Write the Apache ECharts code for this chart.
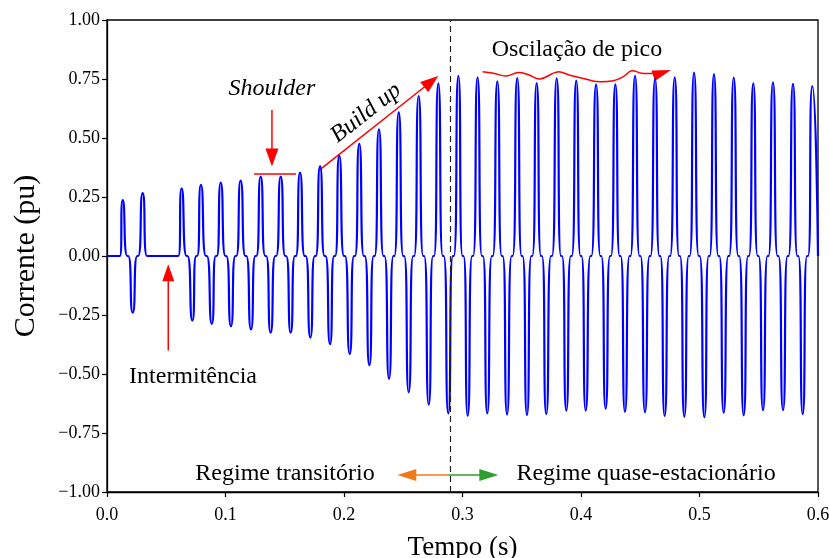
<!DOCTYPE html>
<html><head><meta charset="utf-8">
<script src="https://cdn.jsdelivr.net/npm/echarts@6/dist/echarts.min.js"></script>
<style>html,body{margin:0;padding:0;background:#fff}#c{width:829px;height:558px}</style>
</head><body><div id="c"></div>
<script>
// ---- data ----
const peakTimes = [0.0133,0.0301,0.0630,0.0793,0.0960,0.1128,0.1297,0.1466,0.1629,0.1798,0.1960,0.2129,0.2295,0.2462,0.2630,0.2796,0.2965,0.3127,0.3294,0.3462,0.3626,0.3795,0.3960,0.4127,0.4290,0.4456,0.4625,0.4791,0.4954,0.5122,0.5289,0.5454,0.5620,0.5789,0.5952];
const peakValues = [0.237,0.266,0.287,0.301,0.311,0.319,0.336,0.336,0.353,0.381,0.424,0.475,0.537,0.609,0.678,0.732,0.763,0.757,0.740,0.754,0.733,0.753,0.743,0.727,0.727,0.763,0.751,0.757,0.777,0.771,0.756,0.732,0.736,0.729,0.720];
const troughTimes = [0.0217,0.0720,0.0884,0.1046,0.1215,0.1381,0.1550,0.1716,0.1882,0.2048,0.2214,0.2380,0.2546,0.2715,0.2880,0.3044,0.3209,0.3376,0.3544,0.3707,0.3876,0.4040,0.4208,0.4371,0.4540,0.4706,0.4872,0.5041,0.5204,0.5373,0.5536,0.5705,0.5871];
const troughValues = [-0.240,-0.274,-0.288,-0.297,-0.311,-0.325,-0.325,-0.346,-0.374,-0.415,-0.463,-0.520,-0.578,-0.630,-0.667,-0.677,-0.667,-0.671,-0.674,-0.670,-0.655,-0.655,-0.647,-0.660,-0.662,-0.678,-0.681,-0.683,-0.664,-0.675,-0.653,-0.653,-0.670];
// intervals where the current rests at zero (start and intermittence gap)
const zeroRests = [[0, 0.0108], [0.0337, 0.0602]];
// observed short dwell at zero at each polarity change (s)
const zeroDwell = 0.0008;
const endTime = 0.6;
const xTickValues = [0, 0.1, 0.2, 0.3, 0.4, 0.5, 0.6];
const yTickValues = [-1, -0.75, -0.5, -0.25, 0, 0.25, 0.5, 0.75, 1];
const regimeBoundary = 0.288;

// ---- build waveform points ----
const pts = [];
peakTimes.forEach((t, i) => pts.push([t, peakValues[i]]));
troughTimes.forEach((t, i) => pts.push([t, troughValues[i]]));
zeroRests.forEach(r => { pts.push([r[0], 0]); pts.push([r[0] + 0.001, 0]); pts.push([r[1] - 0.001, 0]); pts.push([r[1], 0]); });
pts.push([endTime, 0]);
pts.sort((a, b) => a[0] - b[0]);
const wave = [];
for (let i = 0; i < pts.length; i++) {
  wave.push(pts[i]);
  const n = pts[i + 1];
  if (n && pts[i][1] * n[1] < 0) {
    const m = (pts[i][0] + n[0]) / 2;
    wave.push([m - zeroDwell / 2, 0]);
    wave.push([m + zeroDwell / 2, 0]);
  }
}

const FONT = "'Liberation Serif','Times New Roman',serif";
const chart = echarts.init(document.getElementById('c'), null, {renderer: 'canvas'});
const fmtY = v => (v < 0 ? '\u2212' : '') + Math.abs(v).toFixed(2);

chart.setOption({
  animation: false,
  backgroundColor: '#fff',
  textStyle: {fontFamily: FONT},
  grid: {left: 107, right: 11, top: 20, bottom: 66, containLabel: false, outerBoundsMode: 'none',
         show: true, borderColor: '#000', borderWidth: 1.3, backgroundColor: 'transparent'},
  xAxis: {
    type: 'value', min: xTickValues[0], max: xTickValues[xTickValues.length - 1], interval: 0.1,
    name: 'Tempo (s)', nameLocation: 'middle', nameGap: 42,
    nameTextStyle: {fontFamily: FONT, fontSize: 27, color: '#000'},
    axisLine: {show: true, onZero: false, lineStyle: {color: '#000', width: 1.3}},
    axisTick: {show: true, length: 5, lineStyle: {color: '#000', width: 1.2}},
    axisLabel: {fontFamily: FONT, fontSize: 18, color: '#000', margin: 14, formatter: v => v.toFixed(1)},
    splitLine: {show: false}
  },
  yAxis: {
    type: 'value', min: yTickValues[0], max: yTickValues[yTickValues.length - 1], interval: 0.25,
    name: 'Corrente (pu)', nameLocation: 'middle', nameGap: 66, nameRotate: 90,
    nameTextStyle: {fontFamily: FONT, fontSize: 30, color: '#000'},
    axisLine: {show: true, onZero: false, lineStyle: {color: '#000', width: 1.3}},
    axisTick: {show: true, length: 5, lineStyle: {color: '#000', width: 1.2}},
    axisLabel: {fontFamily: FONT, fontSize: 18, color: '#000', margin: 7, formatter: fmtY},
    splitLine: {show: false}
  },
  series: [{
    type: 'line', data: wave, showSymbol: false, smooth: 0.75,
    lineStyle: {color: '#0000ff', width: 2.2}, clip: true,
    markLine: {
      silent: true, symbol: 'none', animation: false,
      label: {show: false},
      lineStyle: {color: '#222', type: [6, 4], width: 1.2},
      data: [{xAxis: regimeBoundary}]
    }
  }]
});

// ---- annotations in data coordinates ----
const P = (t, v) => chart.convertToPixel({gridIndex: 0}, [t, v]);
function arrow(a, b, color, headLen, headW, lw) {
  const dx = b[0] - a[0], dy = b[1] - a[1], L = Math.hypot(dx, dy), ux = dx / L, uy = dy / L;
  const bx = b[0] - ux * headLen, by = b[1] - uy * headLen, nx = -uy, ny = ux;
  return [
    {type: 'line', shape: {x1: a[0], y1: a[1], x2: bx + ux, y2: by + uy}, style: {stroke: color, lineWidth: lw}},
    {type: 'polygon', shape: {points: [[b[0], b[1]], [bx + nx * headW / 2, by + ny * headW / 2], [bx - nx * headW / 2, by - ny * headW / 2]]}, style: {fill: color}}
  ];
}
function label(p, text, size, italic, rot) {
  return {type: 'text', x: p[0], y: p[1], rotation: (rot || 0) * Math.PI / 180,
    style: {text, fill: '#000', font: (italic ? 'italic ' : '') + size + 'px ' + FONT, align: 'center', verticalAlign: 'middle'}};
}
const RED = '#ff0000';
const wavyPath = [[0.3170,0.781],[0.3260,0.774],[0.3373,0.763],[0.3471,0.778],[0.3555,0.768],[0.3654,0.750],[0.3800,0.780],[0.3907,0.766],[0.4048,0.749],[0.4132,0.739],[0.4273,0.743],[0.4357,0.760],[0.4428,0.785],[0.4512,0.774],[0.4610,0.774]];
const g = [];
g.push(label(P(0.0726, -0.513), 'Intermitência', 24));
g.push(...arrow(P(0.0517, -0.40), P(0.0517, -0.035), RED, 17, 12, 1.5));
g.push(label(P(0.1392, 0.708), 'Shoulder', 24, true));
g.push(...arrow(P(0.1392, 0.619), P(0.1392, 0.379), RED, 18, 13, 1.5));
const s1 = P(0.1241, 0.347), s2 = P(0.1595, 0.347);
g.push({type: 'line', shape: {x1: s1[0], y1: s1[1], x2: s2[0], y2: s2[1]}, style: {stroke: RED, lineWidth: 1.5}});
g.push(...arrow(P(0.1792, 0.364), P(0.2796, 0.763), RED, 18, 13, 1.5));
g.push(label(P(0.2186, 0.606), 'Build up', 24, true, 38));
g.push(label(P(0.3966, 0.873), 'Oscilação de pico', 24));
g.push({type: 'polyline', shape: {points: wavyPath.map(p => P(p[0], p[1])), smooth: 0.4}, style: {stroke: RED, lineWidth: 1.5, fill: null}});
g.push({type: 'polygon', shape: {points: [P(0.4595, 0.786), P(0.4759, 0.788), P(0.4624, 0.742)]}, style: {fill: RED}});
g.push(label(P(0.1502, -0.924), 'Regime transitório', 24));
g.push(label(P(0.4549, -0.924), 'Regime quase-estacionário', 24));
g.push(...arrow(P(regimeBoundary, -0.928), P(0.2450, -0.928), '#ee7a1c', 19, 12, 1.6));
g.push(...arrow(P(regimeBoundary, -0.928), P(0.3302, -0.928), '#2e9e2e', 19, 12, 1.6));
chart.setOption({graphic: {elements: g}});
</script></body></html>
